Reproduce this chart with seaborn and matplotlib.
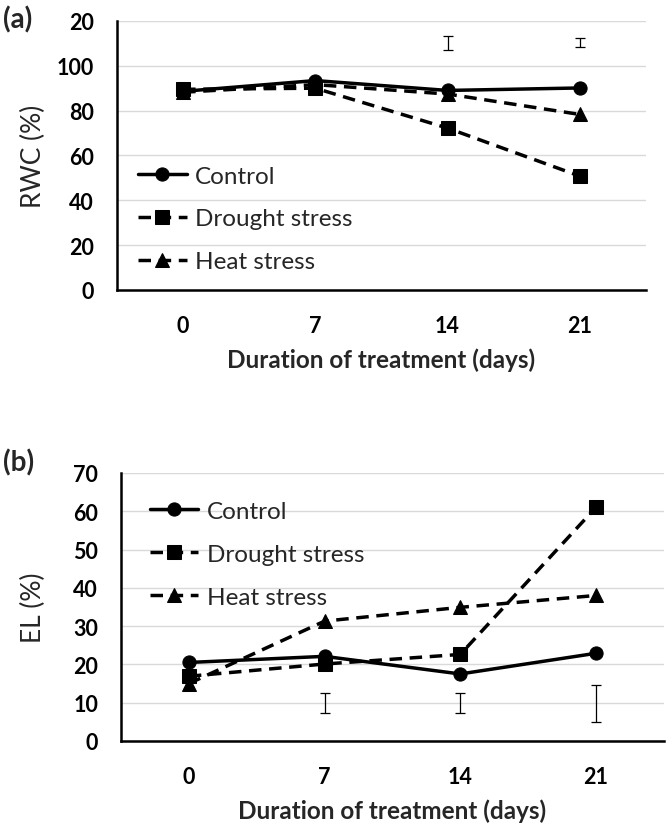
import numpy as np
import pandas as pd
import matplotlib
matplotlib.use("Agg")
import matplotlib.pyplot as plt
import seaborn as sns

# Data
days = ["0", "7", "14", "21"]
treatments = ["Control", "Drought stress", "Heat stress"]

rwc_control = [88.6, 93.4, 89.0, 90.1]
rwc_drought = [89.5, 90.0, 72.2, 50.8]
rwc_heat = [88.2, 91.6, 87.4, 78.3]

el_control = [20.5, 22.1, 17.5, 22.9]
el_drought = [16.9, 20.1, 22.6, 61.0]
el_heat = [15.0, 31.3, 34.9, 38.0]

# LSD-style bars shown above / below the lines (low, high)
rwc_bar_days = [2, 3]
rwc_bar_low = [107.1, 108.4]
rwc_bar_high = [113.3, 112.4]

el_bar_days = [1, 2, 3]
el_bar_low = [7.4, 7.4, 5.0]
el_bar_high = [12.4, 12.4, 14.7]

rwc_ticks = [0, 20, 40, 60, 80, 100, 120]
rwc_ticklabels = ["0", "20", "40", "60", "80", "100", "20"]
el_ticks = [0, 10, 20, 30, 40, 50, 60, 70]

sns.set_style("white")
plt.rcParams["font.family"] = ["Lato", "DejaVu Sans"]


def long_frame(control, drought, heat):
    rows = []
    for name, vals in zip(treatments, (control, drought, heat)):
        for i, v in enumerate(vals):
            rows.append({"pos": i, "value": v, "treatment": name})
    return pd.DataFrame(rows)


def draw_panel(ax, df, bar_days, bar_low, bar_high, ylim, yticks, yticklabels,
               ylabel, ylabel_x, legend_anchor):
    sns.lineplot(data=df, x="pos", y="value", style="treatment",
                 style_order=treatments, color="black", ax=ax,
                 markers={"Control": "o", "Drought stress": "s", "Heat stress": "^"},
                 dashes={"Control": "", "Drought stress": (3.6, 2.2), "Heat stress": (3.6, 2.2)},
                 linewidth=2.5, markersize=9.5, markeredgecolor="black")

    low = np.array(bar_low)
    high = np.array(bar_high)
    ax.errorbar(bar_days, (low + high) / 2, yerr=(high - low) / 2, fmt="none",
                ecolor="black", elinewidth=0.9, capsize=3.8, capthick=0.9)

    ax.set_xlim(-0.5, 3.5)
    ax.set_xticks(range(len(days)))
    ax.set_xticklabels(days)
    ax.set_xticks([-0.5, 3.5], minor=True)
    ax.set_ylim(*ylim)
    ax.set_yticks(yticks)
    ax.set_yticklabels(yticklabels)

    ax.grid(axis="y", color="#d9d9d9", linewidth=1.0)
    ax.set_axisbelow(True)
    for side in ("top", "right"):
        ax.spines[side].set_visible(False)
    for side in ("left", "bottom"):
        ax.spines[side].set_color("black")
        ax.spines[side].set_linewidth(1.8)

    ax.tick_params(axis="y", which="major", direction="out", length=5.5, width=1.5,
                   pad=11, labelsize=15.5, colors="black")
    ax.tick_params(axis="x", which="both", direction="out", length=4, width=1.5,
                   pad=14, labelsize=15.5, colors="black")
    for lab in ax.get_xticklabels() + ax.get_yticklabels():
        lab.set_fontweight("bold")

    ax.set_xlabel("Duration of treatment (days)", fontsize=17.5, fontweight="bold")
    ax.xaxis.set_label_coords(0.5, -0.215)
    ax.set_ylabel(ylabel, fontsize=19)
    ax.yaxis.set_label_coords(ylabel_x, 0.5)

    sns.move_legend(ax, "center left", bbox_to_anchor=legend_anchor, frameon=False,
                    title=None, fontsize=17.5, labelspacing=0.9, handlelength=2.0,
                    handletextpad=0.35, borderpad=0, borderaxespad=0)


fig = plt.figure(figsize=(6.66, 8.28), dpi=100)
ax_a = fig.add_axes([0.1757, 0.6486, 0.794, 0.3249])
ax_b = fig.add_axes([0.1817, 0.1039, 0.815, 0.3237])

draw_panel(ax_a, long_frame(rwc_control, rwc_drought, rwc_heat),
           rwc_bar_days, rwc_bar_low, rwc_bar_high, (0, 120), rwc_ticks,
           rwc_ticklabels, "RWC (%)", -0.135, (0.04, 0.264))
draw_panel(ax_b, long_frame(el_control, el_drought, el_heat),
           el_bar_days, el_bar_low, el_bar_high, (0, 70), el_ticks,
           [str(t) for t in el_ticks], "EL (%)", -0.138, (0.053, 0.697))

fig.text(0.004, 1 - 20 / 828, "(a)", fontsize=20, fontweight="bold", va="center", ha="left")
fig.text(0.004, 1 - 463 / 828, "(b)", fontsize=20, fontweight="bold", va="center", ha="left")

fig.savefig("out.png", dpi=100)
